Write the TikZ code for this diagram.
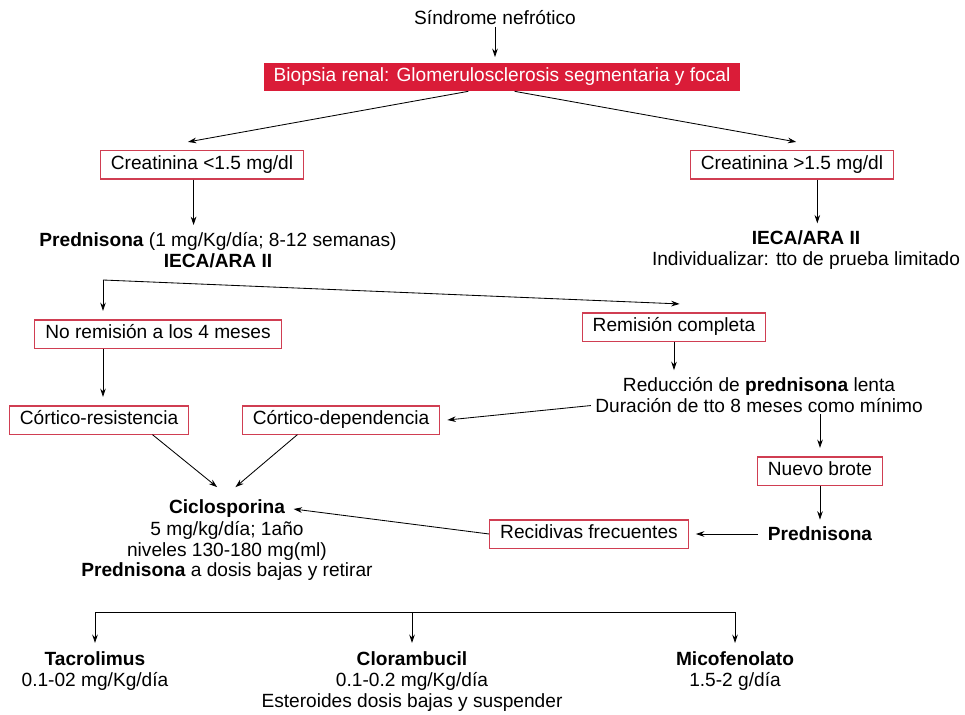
\documentclass[tikz,border=0pt]{standalone}
\usepackage{fontspec}
\setmainfont{Liberation Sans}
\usetikzlibrary{arrows.meta}
\definecolor{bannerred}{RGB}{218,28,56}
\definecolor{boxred}{RGB}{208,62,82}

\begin{document}
\begin{tikzpicture}[x=0.025cm,y=-0.025cm,
   every node/.style={font=\fontsize{13.6}{14.8}\selectfont, inner sep=1pt},
   redbox/.style={draw=boxred, line width=0.8pt, inner xsep=7.5pt, inner ysep=3.5pt, text height=10pt, text depth=3pt},
   banner/.style={fill=bannerred, text=white, inner xsep=7pt, inner ysep=3.5pt, text height=10pt, text depth=3pt},
   arr/.style={-{Stealth[length=6pt,width=4pt]}, line width=0.6pt}]
   \useasboundingbox (0,0) rectangle (965,715);
   % top
   \node (sn) at (495,18) {Síndrome nefrótico};
   \node[banner] (bio) at (502,77) {Biopsia renal: Glomerulosclerosis segmentaria y focal};
   \node[redbox] (cr1) at (202,165) {Creatinina <1.5 mg/dl};
   \node[redbox] (cr2) at (792,165) {Creatinina >1.5 mg/dl};
   \node[align=center] (pred) at (218,250) {{\bfseries Prednisona} (1 mg/Kg/día; 8-12 semanas)\\{\bfseries IECA/ARA II}};
   \node[align=center] (iec) at (806,250) {{\bfseries IECA/ARA II}\\Individualizar: tto de prueba limitado};
   \coordinate (sp) at (103,280);
   % middle
   \node[redbox] (nr) at (158,334) {No remisión a los 4 meses};
   \node[redbox] (rc) at (674,327) {Remisión completa};
   \node[align=center] (red) at (759,395) {Reducción de {\bfseries prednisona} lenta\\Duración de tto 8 meses como mínimo};
   \node[redbox] (cres) at (99,420) {Córtico-resistencia};
   \node[redbox] (cdep) at (341,420) {Córtico-dependencia};
   \node[redbox] (nb) at (820,471) {Nuevo brote};
   \node (pr2) at (820,534) {\bfseries Prednisona};
   \node[redbox] (rec) at (589,534) {Recidivas frecuentes};
   \node (cic) at (227,509) {\bfseries Ciclosporina};
   \node[anchor=north, align=center] (cicd) at (cic.south) {5 mg/kg/día; 1año\\niveles 130-180 mg(ml)\\{\bfseries Prednisona} a dosis bajas y retirar};
   % bottom
   \coordinate (b1) at (95,612);
   \coordinate (b3) at (735,612);
   \node[anchor=north, align=center] (tac) at (95,650) {{\bfseries Tacrolimus}\\0.1-02 mg/Kg/día};
   \node[anchor=north, align=center] (clo) at (412,650) {{\bfseries Clorambucil}\\0.1-0.2 mg/Kg/día\\Esteroides dosis bajas y suspender};
   \node[anchor=north, align=center] (mic) at (735,650) {{\bfseries Micofenolato}\\1.5-2 g/día};

   \draw[arr] (sn.south) -- ([yshift=4pt]sn.south |- bio.north);
   \draw[arr] ([xshift=-24pt]bio.south) -- ([xshift=-10pt,yshift=6pt]cr1.north);
   \draw[arr] ([xshift=9pt]bio.south) -- ([xshift=3pt,yshift=6pt]cr2.north);
   \draw[arr] ([xshift=-6pt]cr1.south) -- ([xshift=-6pt,yshift=4pt]cr1.south |- pred.north);
   \draw[arr] ([xshift=18pt]cr2.south) -- ([xshift=18pt,yshift=4pt]cr2.south |- iec.north);
   \draw[arr] (sp) -- ([yshift=6pt]sp |- nr.north);
   \draw[arr] (sp) -- ([xshift=4pt,yshift=6pt]rc.north);
   \draw[arr] (nr.south -| sp) -- ([yshift=6pt]sp |- cres.north);
   \draw[arr] (rc.south) -- ([yshift=4pt]rc.south |- red.north);
   \draw[arr] ([xshift=-2pt,yshift=-7.5pt]red.west) -- ([xshift=5pt]cdep.east);
   \draw[arr] (nb |- red.south) -- ([yshift=6pt]nb.north);
   \draw[arr] (nb.south) -- ([yshift=4pt]pr2.north);
   \draw[arr] ([xshift=-6pt]pr2.west) -- ([xshift=5pt]rec.east);
   \draw[arr] (rec.west) -- ([xshift=5pt]cic.east);
   \draw[arr] ([xshift=38pt]cres.south) -- ([xshift=-7pt,yshift=8pt]cic.north);
   \draw[arr] ([xshift=-31pt]cdep.south) -- ([xshift=6pt,yshift=8pt]cic.north);
   \draw[line width=0.6pt] (b1) -- (b3);
   \foreach \n in {tac,clo,mic}
      \draw[arr] (\n.north |- b1) -- ([yshift=5pt]\n.north);
\end{tikzpicture}
\end{document}
